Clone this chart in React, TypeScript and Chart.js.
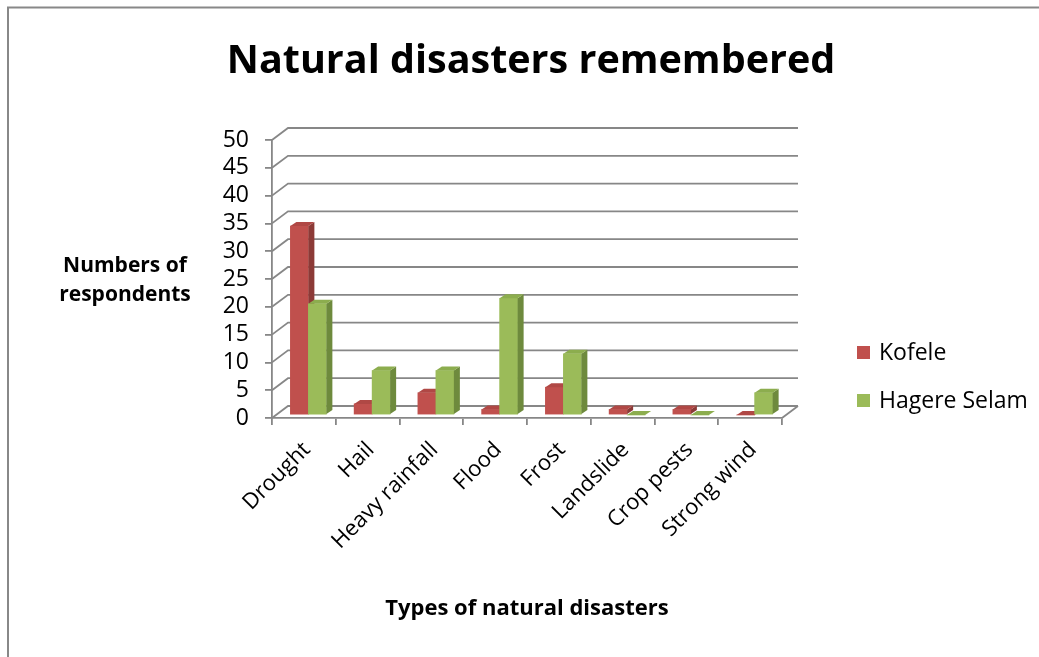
import React, { useEffect, useRef } from "react";
import { Chart, registerables } from "chart.js";

Chart.register(...registerables);

// Data
const categories = [
  "Drought",
  "Hail",
  "Heavy rainfall",
  "Flood",
  "Frost",
  "Landslide",
  "Crop pests",
  "Strong wind",
];
const kofele = [34, 2, 4, 1, 5, 1, 1, 0];
const hagereSelam = [20, 8, 8, 21, 11, 0, 0, 4];
const seriesNames = ["Kofele", "Hagere Selam"];
const yTickStep = 5;
const yMax = 50;

const chartTitle = "Natural disasters remembered";
const yTitleLines = ["Numbers of", "respondents"];
const xTitle = "Types of natural disasters";

// Styling
const FONT = '"Open Sans", "DejaVu Sans", sans-serif';
const GRID = "#878787";
const FRONT = ["#C0504D", "#9BBB59"];
const TOP = ["#B04845", "#8CAD4E"];
const SIDE = ["#8C3A37", "#6E8A3D"];

// pseudo-3D geometry (pixels)
const WALL = { x: 16, y: -12 };
const FACE = { x: 4.5, y: -3 };
const DEPTH = { x: 6, y: -4 };

const threeD = {
  id: "threeD",
  beforeDraw(chart: any) {
    const { ctx } = chart;
    ctx.save();
    ctx.fillStyle = "#ffffff";
    ctx.fillRect(0, 0, chart.width, chart.height);
    // outer frame
    ctx.strokeStyle = "#888888";
    ctx.lineWidth = 2;
    ctx.beginPath();
    ctx.moveTo(8, chart.height + 2);
    ctx.lineTo(8, 7.5);
    ctx.lineTo(chart.width + 2, 7.5);
    ctx.stroke();

    // title
    ctx.fillStyle = "#000";
    ctx.textAlign = "center";
    ctx.textBaseline = "alphabetic";
    ctx.font = `bold 39.5px ${FONT}`;
    ctx.fillText(chartTitle, 531, 73);

    // value axis title (horizontal, two lines)
    ctx.font = `bold 21px ${FONT}`;
    ctx.fillText(yTitleLines[0], 125, 272);
    ctx.fillText(yTitleLines[1], 125, 301);

    // legend
    ctx.textAlign = "left";
    ctx.font = `23px ${FONT}`;
    seriesNames.forEach((name, i) => {
      const cy = 352.5 + i * 48;
      ctx.fillStyle = FRONT[i];
      ctx.fillRect(857, cy - 6.5, 13, 13);
      ctx.fillStyle = "#000";
      ctx.fillText(name, 879, cy + 7.5);
    });
    ctx.restore();
  },
  beforeDatasetsDraw(chart: any) {
    const { ctx, chartArea, scales } = chart;
    const ys = scales.y;
    const { left, right, bottom } = chartArea;
    ctx.save();
    ctx.strokeStyle = GRID;
    ctx.lineWidth = 1.8;
    ctx.beginPath();
    for (let v = 0; v <= yMax; v += yTickStep) {
      const y = ys.getPixelForValue(v);
      // side wall diagonal, then back wall line
      ctx.moveTo(left, y);
      ctx.lineTo(left + WALL.x, y + WALL.y);
      ctx.lineTo(right + WALL.x, y + WALL.y);
    }
    // floor right edge
    ctx.moveTo(right, bottom);
    ctx.lineTo(right + WALL.x, bottom + WALL.y);
    ctx.stroke();
    ctx.restore();
  },
  // bars are painted below in series order so each block overlaps correctly
  beforeDatasetDraw() {
    return false;
  },
  afterDatasetsDraw(chart: any) {
    const { ctx } = chart;
    ctx.save();
    ctx.translate(FACE.x, FACE.y);
    chart.data.datasets.forEach((_ds: any, i: number) => {
      const meta = chart.getDatasetMeta(i);
      meta.data.forEach((el: any) => {
        el.draw(ctx);
        const { x, y, base, width } = el.getProps(["x", "y", "base", "width"], true);
        const l = x - width / 2;
        const r = x + width / 2;
        // side face
        ctx.fillStyle = SIDE[i];
        ctx.beginPath();
        ctx.moveTo(r, y);
        ctx.lineTo(r + DEPTH.x, y + DEPTH.y);
        ctx.lineTo(r + DEPTH.x, base + DEPTH.y);
        ctx.lineTo(r, base);
        ctx.closePath();
        ctx.fill();
        // top face
        ctx.fillStyle = TOP[i];
        ctx.beginPath();
        ctx.moveTo(l, y);
        ctx.lineTo(l + DEPTH.x, y + DEPTH.y);
        ctx.lineTo(r + DEPTH.x, y + DEPTH.y);
        ctx.lineTo(r, y);
        ctx.closePath();
        ctx.fill();
      });
    });
    ctx.restore();
  },
};

export default function App() {
  const ref = useRef<HTMLCanvasElement>(null);

  useEffect(() => {
    if (!ref.current) return;
    const chart = new Chart(ref.current, {
      type: "bar",
      data: {
        labels: categories,
        datasets: [
          {
            label: seriesNames[0],
            data: kofele,
            backgroundColor: FRONT[0],
            borderWidth: 0,
          },
          {
            label: seriesNames[1],
            data: hagereSelam,
            backgroundColor: FRONT[1],
            borderWidth: 0,
          },
        ],
      },
      options: {
        animation: false,
        responsive: false,
        events: [],
        layout: { padding: { top: 140, left: 24, right: 257, bottom: 5 } },
        datasets: { bar: { barThickness: 18 } },
        plugins: {
          legend: { display: false },
          title: { display: false },
          tooltip: { enabled: false },
        },
        scales: {
          x: {
            grid: {
              offset: true,
              drawOnChartArea: false,
              drawTicks: true,
              tickLength: 7,
              color: GRID,
              lineWidth: 1.8,
            },
            border: { display: true, color: GRID, width: 1.8 },
            ticks: {
              autoSkip: false,
              minRotation: 45,
              maxRotation: 45,
              padding: 12,
              labelOffset: 3,
              color: "#000",
              font: { family: FONT, size: 22 },
            },
            title: {
              display: true,
              text: xTitle,
              color: "#000",
              font: { family: FONT, size: 22, weight: "bold" },
              padding: { top: 0, bottom: 30 },
            },
            afterFit(scale: any) {
              scale.height = 234;
            },
          },
          y: {
            min: 0,
            max: yMax,
            grid: {
              drawOnChartArea: false,
              drawTicks: true,
              tickLength: 7,
              color: GRID,
              lineWidth: 1.8,
            },
            border: { display: true, color: GRID, width: 1.8 },
            ticks: {
              stepSize: yTickStep,
              autoSkip: false,
              padding: 16,
              color: "#000",
              font: { family: FONT, size: 23 },
            },
            afterFit(scale: any) {
              scale.width = 248;
            },
          },
        },
      },
      plugins: [threeD],
    });
    return () => chart.destroy();
  }, []);

  return (
    <div
      style={{
        position: "fixed",
        left: 0,
        top: 0,
        width: 1039,
        height: 657,
        background: "#fff",
        overflow: "hidden",
      }}
    >
      <canvas ref={ref} width={1039} height={657} style={{ display: "block" }} />
    </div>
  );
}
